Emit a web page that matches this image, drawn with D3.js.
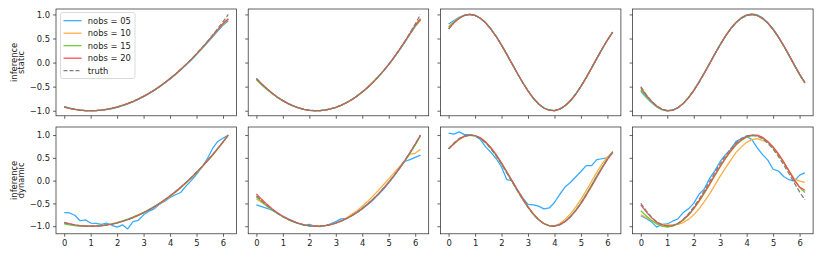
<!DOCTYPE html>
<html>
<head>
<meta charset="utf-8">
<script src="https://cdn.jsdelivr.net/npm/d3@7"></script>
<style>
  body { margin: 0; background: #fff; }
  text { font-family: "DejaVu Sans", sans-serif; }
</style>
</head>
<body>
<div id="chart"></div>
<script>
// shared x grid (0 .. ~6.2)
const xs = [0,0.2,0.4,0.6,0.8,1.0,1.2,1.4,1.6,1.8,2.0,2.2,2.4,2.6,2.8,3.0,3.2,3.4,3.6,3.8,4.0,4.2,4.4,4.6,4.8,5.0,5.2,5.4,5.6,5.8,6.0,6.2];
const xTicks = [0,1,2,3,4,5,6];
const yTicks = [-1,-0.5,0,0.5,1];
const nobsLabels = ["nobs = 05","nobs = 10","nobs = 15","nobs = 20"];
const rowLabels = [["inference","static"],["inference","dynamic"]];

// truth curve for each column (same in both rows)
const truth = [
  [-0.926,-0.953,-0.973,-0.988,-0.997,-1.0,-0.997,-0.988,-0.973,-0.953,-0.926,-0.893,-0.855,-0.811,-0.760,-0.704,-0.642,-0.574,-0.500,-0.420,-0.334,-0.243,-0.145,-0.041,0.068,0.183,0.305,0.432,0.565,0.704,0.849,1.0],
  [-0.333,-0.445,-0.547,-0.639,-0.720,-0.791,-0.852,-0.902,-0.942,-0.971,-0.991,-0.999,-0.998,-0.986,-0.964,-0.931,-0.888,-0.835,-0.771,-0.697,-0.612,-0.518,-0.412,-0.297,-0.171,-0.035,0.112,0.269,0.436,0.614,0.802,1.0],
  [0.696,0.825,0.921,0.980,1.000,0.980,0.921,0.826,0.697,0.541,0.362,0.170,-0.028,-0.226,-0.414,-0.589,-0.740,-0.861,-0.944,-0.990,-0.998,-0.967,-0.898,-0.794,-0.658,-0.496,-0.313,-0.115,0.087,0.283,0.468,0.634],
  [-0.498,-0.660,-0.796,-0.900,-0.969,-0.999,-0.989,-0.939,-0.853,-0.732,-0.582,-0.408,-0.219,-0.021,0.178,0.370,0.548,0.703,0.830,0.924,0.982,1.000,0.978,0.918,0.820,0.689,0.530,0.348,0.151,-0.050,-0.248,-0.422]
];

// static inference, one array per column
const static05 = [
  [-0.915,-0.945,-0.968,-0.985,-0.996,-1.0,-0.998,-0.99,-0.976,-0.956,-0.93,-0.897,-0.858,-0.814,-0.763,-0.707,-0.645,-0.578,-0.505,-0.426,-0.341,-0.251,-0.155,-0.053,0.054,0.166,0.283,0.404,0.528,0.655,0.773,0.87],
  [-0.33,-0.443,-0.545,-0.637,-0.719,-0.79,-0.851,-0.901,-0.941,-0.97,-0.99,-0.998,-0.997,-0.985,-0.963,-0.93,-0.887,-0.834,-0.771,-0.698,-0.614,-0.521,-0.416,-0.302,-0.178,-0.044,0.1,0.254,0.415,0.584,0.745,0.88],
  [0.80,0.875,0.94,0.985,1.0,0.98,0.92,0.825,0.696,0.54,0.361,0.169,-0.029,-0.227,-0.415,-0.59,-0.741,-0.862,-0.945,-0.99,-0.998,-0.966,-0.897,-0.793,-0.657,-0.495,-0.312,-0.114,0.088,0.284,0.468,0.63],
  [-0.60,-0.72,-0.83,-0.92,-0.98,-1.005,-0.992,-0.94,-0.852,-0.73,-0.578,-0.402,-0.212,-0.013,0.187,0.38,0.558,0.713,0.84,0.934,0.992,1.012,0.99,0.93,0.83,0.698,0.537,0.353,0.154,-0.048,-0.245,-0.42]
];
const static10 = [
  [-0.92,-0.95,-0.972,-0.988,-0.998,-1.0,-0.996,-0.986,-0.97,-0.95,-0.923,-0.89,-0.852,-0.808,-0.757,-0.701,-0.639,-0.571,-0.497,-0.417,-0.331,-0.24,-0.143,-0.04,0.067,0.18,0.3,0.424,0.552,0.68,0.8,0.9],
  [-0.34,-0.45,-0.55,-0.641,-0.721,-0.792,-0.853,-0.903,-0.943,-0.972,-0.991,-0.999,-0.998,-0.986,-0.964,-0.931,-0.888,-0.835,-0.771,-0.697,-0.612,-0.518,-0.413,-0.298,-0.173,-0.038,0.107,0.262,0.425,0.597,0.765,0.9],
  [0.75,0.85,0.93,0.982,1.0,0.98,0.921,0.826,0.697,0.541,0.362,0.17,-0.028,-0.226,-0.414,-0.589,-0.74,-0.861,-0.944,-0.99,-0.998,-0.967,-0.898,-0.794,-0.658,-0.496,-0.313,-0.115,0.087,0.283,0.467,0.632],
  [-0.56,-0.69,-0.81,-0.91,-0.975,-1.0,-0.99,-0.938,-0.852,-0.731,-0.581,-0.407,-0.218,-0.02,0.179,0.371,0.549,0.704,0.831,0.925,0.983,1.0,0.978,0.917,0.819,0.688,0.529,0.347,0.15,-0.051,-0.249,-0.425]
];
const static15 = [
  [-0.918,-0.948,-0.971,-0.989,-1.0,-1.003,-0.998,-0.986,-0.968,-0.946,-0.918,-0.886,-0.848,-0.804,-0.754,-0.698,-0.637,-0.57,-0.497,-0.418,-0.333,-0.242,-0.145,-0.043,0.064,0.176,0.295,0.42,0.548,0.678,0.8,0.9],
  [-0.36,-0.465,-0.562,-0.65,-0.728,-0.797,-0.856,-0.905,-0.945,-0.974,-0.993,-1.001,-0.999,-0.986,-0.963,-0.929,-0.885,-0.831,-0.767,-0.693,-0.608,-0.514,-0.409,-0.295,-0.171,-0.037,0.108,0.262,0.424,0.594,0.76,0.89],
  [0.73,0.84,0.926,0.981,1.0,0.98,0.921,0.826,0.697,0.541,0.362,0.17,-0.028,-0.226,-0.414,-0.589,-0.74,-0.861,-0.944,-0.99,-0.998,-0.967,-0.898,-0.794,-0.658,-0.496,-0.313,-0.115,0.087,0.283,0.468,0.633],
  [-0.57,-0.70,-0.815,-0.912,-0.978,-1.003,-0.99,-0.938,-0.851,-0.73,-0.58,-0.406,-0.217,-0.019,0.18,0.372,0.55,0.704,0.83,0.923,0.98,0.998,0.976,0.915,0.817,0.686,0.527,0.345,0.148,-0.053,-0.251,-0.427]
];
const static20 = [
  [-0.922,-0.951,-0.972,-0.987,-0.997,-1.0,-0.997,-0.988,-0.973,-0.952,-0.925,-0.892,-0.854,-0.81,-0.759,-0.703,-0.641,-0.573,-0.499,-0.419,-0.333,-0.242,-0.145,-0.042,0.066,0.18,0.3,0.425,0.554,0.685,0.81,0.91],
  [-0.335,-0.446,-0.548,-0.639,-0.72,-0.791,-0.852,-0.902,-0.942,-0.971,-0.991,-0.999,-0.998,-0.986,-0.964,-0.931,-0.888,-0.835,-0.771,-0.697,-0.612,-0.518,-0.412,-0.297,-0.172,-0.036,0.11,0.265,0.43,0.603,0.775,0.91],
  [0.70,0.826,0.921,0.98,1.0,0.98,0.921,0.826,0.697,0.541,0.362,0.17,-0.028,-0.226,-0.414,-0.589,-0.74,-0.861,-0.944,-0.99,-0.998,-0.967,-0.898,-0.794,-0.658,-0.496,-0.313,-0.115,0.087,0.283,0.468,0.634],
  [-0.52,-0.672,-0.802,-0.903,-0.97,-0.999,-0.989,-0.939,-0.853,-0.732,-0.582,-0.408,-0.219,-0.021,0.178,0.37,0.548,0.703,0.83,0.924,0.982,1.0,0.978,0.918,0.82,0.689,0.53,0.35,0.155,-0.045,-0.24,-0.41]
];

// dynamic inference, one array per column
const dynamic05 = [
  [-0.70,-0.71,-0.76,-0.88,-0.86,-0.93,-0.94,-0.96,-0.93,-0.98,-1.02,-0.97,-1.06,-0.90,-0.87,-0.75,-0.67,-0.62,-0.52,-0.45,-0.37,-0.31,-0.26,-0.12,0.0,0.14,0.29,0.47,0.70,0.86,0.93,1.0],
  [-0.53,-0.57,-0.61,-0.65,-0.72,-0.78,-0.84,-0.89,-0.94,-0.98,-0.96,-1.0,-1.01,-0.99,-0.95,-0.90,-0.84,-0.83,-0.77,-0.70,-0.62,-0.53,-0.43,-0.31,-0.19,-0.05,0.10,0.26,0.42,0.46,0.51,0.56],
  [1.04,1.02,1.07,1.01,1.01,0.98,0.90,0.74,0.62,0.48,0.30,0.02,0.00,-0.20,-0.38,-0.52,-0.53,-0.56,-0.62,-0.60,-0.48,-0.30,-0.14,-0.04,0.08,0.20,0.33,0.33,0.46,0.48,0.50,0.60],
  [-0.77,-0.83,-0.90,-1.02,-0.96,-0.95,-0.89,-0.84,-0.70,-0.62,-0.50,-0.30,-0.18,0.05,0.22,0.42,0.57,0.68,0.86,0.92,0.97,0.90,0.72,0.57,0.45,0.25,0.21,0.09,0.02,-0.01,0.12,0.17]
];
const dynamic10 = [
  [-0.93,-0.955,-0.975,-0.99,-0.998,-1.0,-0.995,-0.985,-0.97,-0.95,-0.925,-0.89,-0.85,-0.8,-0.75,-0.7,-0.645,-0.58,-0.51,-0.435,-0.35,-0.26,-0.165,-0.06,0.05,0.17,0.29,0.42,0.55,0.69,0.84,1.0],
  [-0.40,-0.48,-0.56,-0.64,-0.72,-0.79,-0.85,-0.90,-0.94,-0.97,-0.99,-1.0,-0.997,-0.985,-0.962,-0.928,-0.88,-0.82,-0.74,-0.66,-0.56,-0.46,-0.34,-0.22,-0.09,0.04,0.17,0.30,0.43,0.58,0.60,0.69],
  [0.70,0.80,0.90,0.965,0.995,0.99,0.94,0.85,0.72,0.56,0.38,0.19,-0.01,-0.21,-0.40,-0.58,-0.735,-0.86,-0.945,-0.99,-0.99,-0.94,-0.85,-0.73,-0.58,-0.41,-0.22,-0.02,0.18,0.37,0.52,0.63],
  [-0.75,-0.81,-0.87,-0.92,-0.96,-0.97,-0.97,-0.96,-0.92,-0.85,-0.75,-0.62,-0.46,-0.29,-0.10,0.10,0.28,0.45,0.62,0.74,0.84,0.90,0.92,0.88,0.84,0.72,0.57,0.40,0.22,0.04,-0.01,-0.04]
];
const dynamic15 = [
  [-0.95,-0.97,-0.99,-1.0,-1.005,-1.0,-0.995,-0.985,-0.97,-0.948,-0.92,-0.885,-0.846,-0.802,-0.752,-0.697,-0.636,-0.57,-0.497,-0.42,-0.336,-0.246,-0.15,-0.047,0.062,0.178,0.3,0.428,0.56,0.7,0.85,1.0],
  [-0.36,-0.46,-0.555,-0.643,-0.722,-0.793,-0.854,-0.904,-0.944,-0.973,-0.992,-1.0,-0.998,-0.986,-0.963,-0.93,-0.886,-0.832,-0.768,-0.694,-0.609,-0.515,-0.41,-0.295,-0.17,-0.036,0.108,0.262,0.425,0.597,0.78,0.98],
  [0.70,0.81,0.91,0.972,0.998,0.985,0.93,0.835,0.705,0.548,0.368,0.175,-0.024,-0.222,-0.41,-0.585,-0.737,-0.86,-0.943,-0.99,-0.998,-0.962,-0.89,-0.785,-0.645,-0.48,-0.295,-0.097,0.104,0.298,0.48,0.635],
  [-0.66,-0.77,-0.87,-0.95,-1.0,-1.02,-1.0,-0.95,-0.87,-0.76,-0.62,-0.46,-0.28,-0.09,0.11,0.30,0.48,0.64,0.78,0.88,0.95,0.985,0.98,0.93,0.84,0.72,0.57,0.40,0.21,0.02,-0.15,-0.26]
];
const dynamic20 = [
  [-0.915,-0.945,-0.968,-0.985,-0.995,-1.0,-0.998,-0.99,-0.976,-0.957,-0.93,-0.897,-0.858,-0.813,-0.762,-0.706,-0.644,-0.576,-0.502,-0.422,-0.336,-0.245,-0.147,-0.043,0.066,0.181,0.303,0.43,0.563,0.702,0.848,1.0],
  [-0.29,-0.41,-0.52,-0.62,-0.705,-0.78,-0.845,-0.898,-0.94,-0.97,-0.99,-0.999,-0.998,-0.986,-0.964,-0.931,-0.888,-0.835,-0.771,-0.697,-0.612,-0.518,-0.412,-0.297,-0.171,-0.035,0.112,0.269,0.436,0.614,0.802,1.0],
  [0.70,0.815,0.915,0.976,1.0,0.99,0.94,0.85,0.725,0.57,0.39,0.195,-0.005,-0.2,-0.39,-0.57,-0.725,-0.85,-0.94,-0.99,-1.0,-0.97,-0.9,-0.8,-0.665,-0.505,-0.322,-0.125,0.078,0.275,0.46,0.625],
  [-0.53,-0.68,-0.81,-0.91,-0.97,-0.99,-0.985,-0.94,-0.86,-0.75,-0.61,-0.44,-0.26,-0.07,0.13,0.32,0.50,0.66,0.80,0.90,0.97,1.0,1.0,0.95,0.86,0.74,0.59,0.41,0.21,0.01,-0.14,-0.21]
];

const rows = [
  [static05, static10, static15, static20],
  [dynamic05, dynamic10, dynamic15, dynamic20]
];
const colors = ["#33aaff", "#ffaa44", "#66cc33", "#ff4848"];
const truthColor = "#7f7f7f";

// layout
const width = 822, height = 257;
const panelLeft = 56, panelStep = 192.2, panelW = 180.5;
const rowTop = [9, 127], panelH = 106.8;
const fontSize = 8.4;

const svg = d3.select("#chart").append("svg")
  .attr("width", width)
  .attr("height", height);

// matplotlib-like 5% margins
function padded(ext) {
  const m = (ext[1] - ext[0]) * 0.05;
  return [ext[0] - m, ext[1] + m];
}
const xExt = padded(d3.extent(xs));

rows.forEach(function(rowSeries, r) {
  // y limits shared along each row
  let all = [];
  rowSeries.forEach(s => s.forEach(c => all = all.concat(c)));
  truth.forEach(c => all = all.concat(c));
  const y = d3.scaleLinear().domain(padded(d3.extent(all)))
    .range([rowTop[r] + panelH, rowTop[r]]);

  for (let c = 0; c < 4; c++) {
    const x0 = panelLeft + c * panelStep;
    const x = d3.scaleLinear().domain(xExt).range([x0, x0 + panelW]);
    const g = svg.append("g");

    const line = d3.line()
      .x((d, i) => x(xs[i]))
      .y(d => y(d));

    // clip to the axes box
    const clipId = "clip" + r + c;
    g.append("clipPath").attr("id", clipId).append("rect")
      .attr("x", x0).attr("y", rowTop[r])
      .attr("width", panelW).attr("height", panelH);
    const plot = g.append("g").attr("clip-path", "url(#" + clipId + ")");

    rowSeries.forEach(function(series, k) {
      plot.append("path")
        .attr("d", line(series[c]))
        .attr("fill", "none")
        .attr("stroke", colors[k])
        .attr("stroke-width", 1.25)
        .attr("stroke-linejoin", "round");
    });
    plot.append("path")
      .attr("d", line(truth[c]))
      .attr("fill", "none")
      .attr("stroke", truthColor)
      .attr("stroke-width", 1.25)
      .attr("stroke-dasharray", "4.6,2");

    // axes
    const yAxis = d3.axisLeft(y).tickValues(yTicks).tickSize(3).tickPadding(3)
      .tickFormat(c === 0 ? d3.format(".1f") : "");
    const xAxis = d3.axisBottom(x).tickValues(xTicks).tickSize(3).tickPadding(3)
      .tickFormat(r === 1 ? d3.format("d") : "");

    const ya = g.append("g").attr("transform", "translate(" + x0 + ",0)").call(yAxis);
    const xa = g.append("g").attr("transform", "translate(0," + (rowTop[r] + panelH) + ")").call(xAxis);
    [ya, xa].forEach(function(a) {
      a.select(".domain").remove();
      a.selectAll("line").attr("stroke", "#222").attr("stroke-width", 0.7);
      a.selectAll("text").attr("fill", "#222").style("font-size", fontSize + "px")
        .style("font-family", "DejaVu Sans, sans-serif");
    });

    // frame
    g.append("rect")
      .attr("x", x0).attr("y", rowTop[r])
      .attr("width", panelW).attr("height", panelH)
      .attr("fill", "none")
      .attr("stroke", "#222")
      .attr("stroke-width", 0.7);
  }

  // two-line row label
  const cy = rowTop[r] + panelH / 2;
  rowLabels[r].forEach(function(t, i) {
    svg.append("text")
      .attr("transform", "translate(" + (17 + i * 7.2) + "," + cy + ") rotate(-90)")
      .attr("text-anchor", "middle")
      .attr("fill", "#222")
      .style("font-size", fontSize + "px")
      .text(t);
  });
});

// legend in the first panel
const lg = svg.append("g").attr("transform", "translate(60.5,12.5)");
lg.append("rect")
  .attr("width", 74.5).attr("height", 66)
  .attr("rx", 2)
  .attr("fill", "white").attr("fill-opacity", 0.8)
  .attr("stroke", "#d0d0d0").attr("stroke-width", 0.8);
const legendItems = nobsLabels.map((t, i) => ({label: t, color: colors[i], dash: null}))
  .concat([{label: "truth", color: truthColor, dash: "4,2"}]);
legendItems.forEach(function(d, i) {
  const yy = 8.2 + i * 12.5;
  lg.append("line")
    .attr("x1", 3).attr("x2", 21)
    .attr("y1", yy).attr("y2", yy)
    .attr("stroke", d.color).attr("stroke-width", 1.25)
    .attr("stroke-dasharray", d.dash);
  lg.append("text")
    .attr("x", 27.3).attr("y", yy)
    .attr("dy", "0.35em")
    .attr("fill", "#222")
    .style("font-size", fontSize + "px")
    .text(d.label);
});
</script>
</body>
</html>
